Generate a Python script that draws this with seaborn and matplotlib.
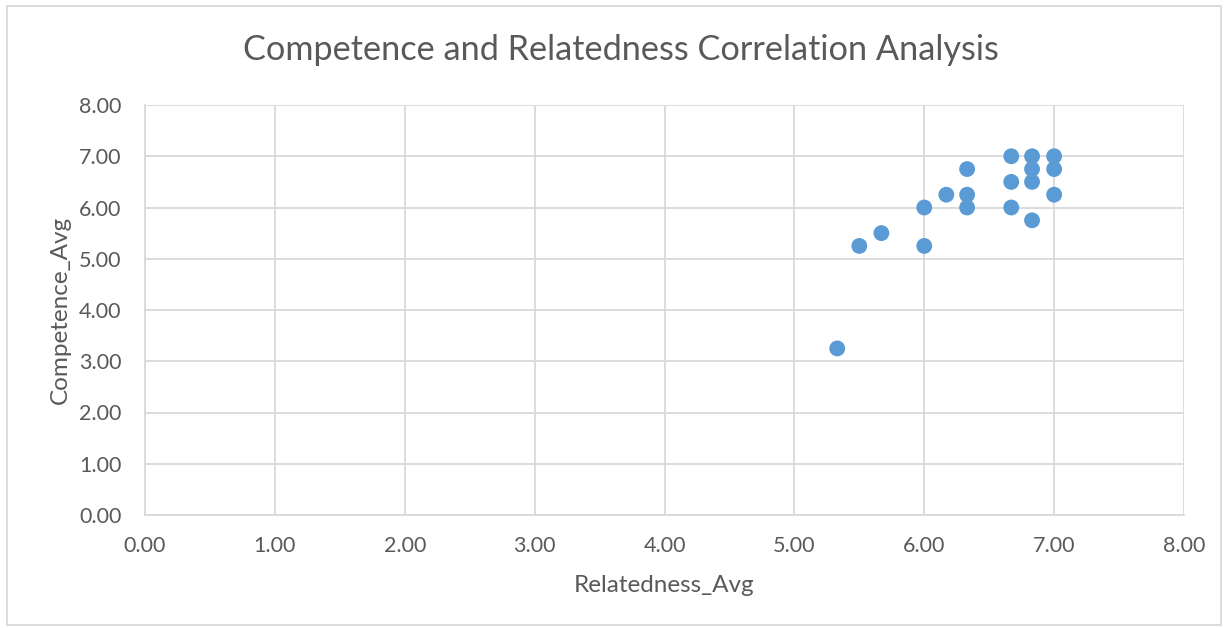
import matplotlib
matplotlib.use("Agg")
import matplotlib.pyplot as plt
from matplotlib.patches import Rectangle
import seaborn as sns
import pandas as pd

relatedness_avg = [5.33, 5.50, 5.67, 6.00, 6.00, 6.17, 6.33, 6.33, 6.33,
                   6.67, 6.67, 6.67, 6.83, 6.83, 6.83, 6.83, 7.00, 7.00, 7.00]
competence_avg = [3.25, 5.25, 5.50, 6.00, 5.25, 6.25, 6.75, 6.25, 6.00,
                  7.00, 6.50, 6.00, 7.00, 6.75, 6.50, 5.75, 7.00, 6.75, 6.25]
tick_values = [0, 1, 2, 3, 4, 5, 6, 7, 8]

df = pd.DataFrame({"Relatedness_Avg": relatedness_avg,
                   "Competence_Avg": competence_avg})

sns.set_theme(style="white")
plt.rcParams["font.family"] = ["Lato", "DejaVu Sans"]

text_color = "#595959"
grid_color = "#D9D9D9"

fig = plt.figure(figsize=(12.26, 6.28), dpi=100)
ax = fig.add_axes([145 / 1226, 1 - 515 / 628, (1184 - 145) / 1226, (515 - 105) / 628])

sns.scatterplot(data=df, x="Relatedness_Avg", y="Competence_Avg", ax=ax,
                color="#5B9BD5", s=130, edgecolor="none", zorder=3)

ax.set_xlim(0, 8)
ax.set_ylim(0, 8)
ax.set_xticks(tick_values)
ax.set_yticks(tick_values)
ax.set_xticklabels([f"{v:.2f}" for v in tick_values])
ax.set_yticklabels([f"{v:.2f}" for v in tick_values])
ax.grid(True, color=grid_color, linewidth=1.3)
ax.set_axisbelow(True)
for side, spine in ax.spines.items():
    spine.set_visible(side in ("left", "bottom"))
    spine.set_color(grid_color)
    spine.set_linewidth(1.3)
ax.tick_params(axis="x", length=0, labelsize=15.5, colors=text_color, pad=15)
ax.tick_params(axis="y", length=0, labelsize=15.5, colors=text_color, pad=17)

ax.set_xlabel("Relatedness_Avg", fontsize=17.5, color=text_color, labelpad=14)
ax.set_ylabel("Competence_Avg", fontsize=17.5, color=text_color, labelpad=6)
fig.text(621 / 1226, 1 - 50 / 628, "Competence and Relatedness Correlation Analysis",
         ha="center", va="center", fontsize=24.7, color=text_color)

# chart border
fig.patches.append(Rectangle((7 / 1226, 3 / 628), 1214 / 1226, 619 / 628,
                             transform=fig.transFigure, fill=False,
                             edgecolor=grid_color, linewidth=1.3))

fig.savefig("out.png", dpi=100)
